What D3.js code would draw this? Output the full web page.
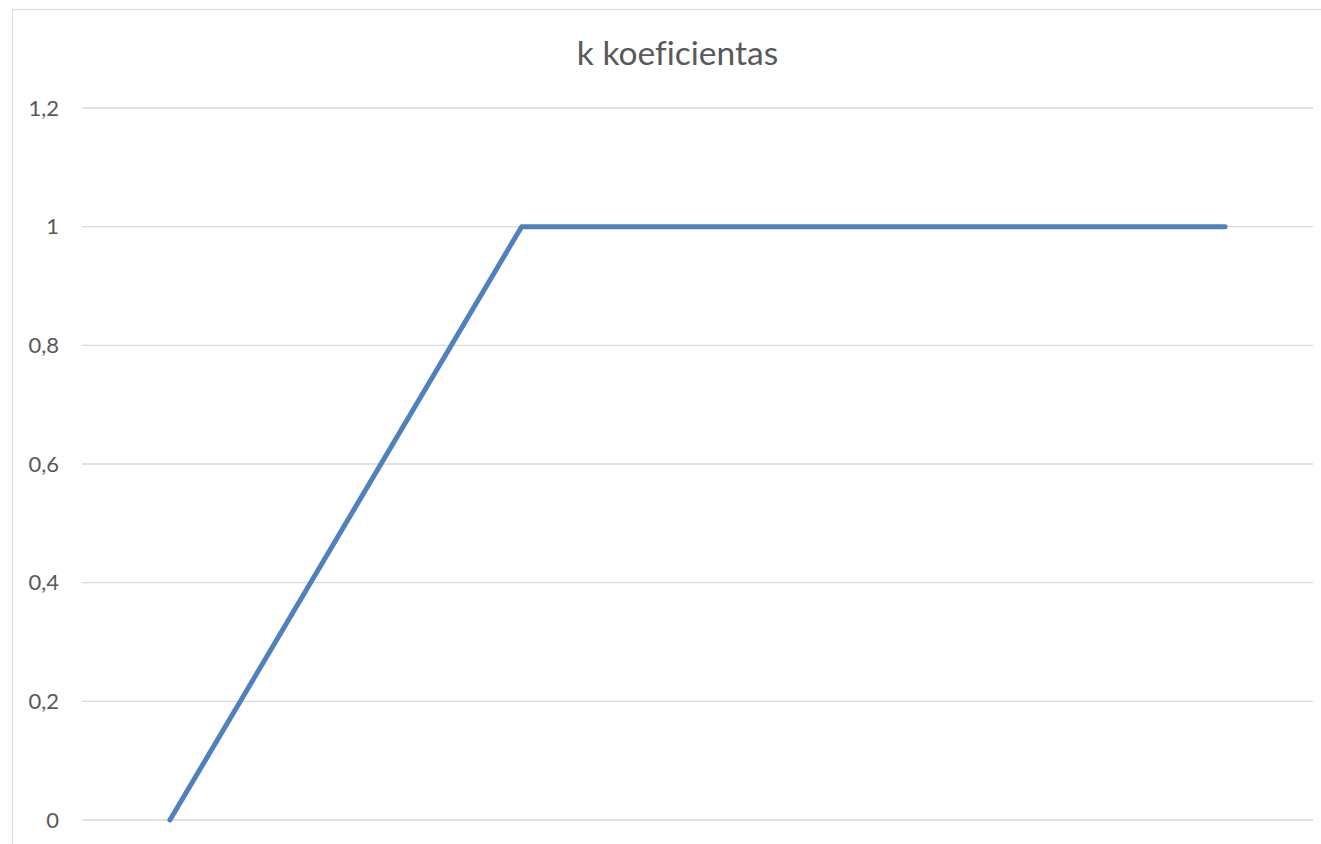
<!DOCTYPE html>
<html><head><meta charset="utf-8">
<script src="https://cdn.jsdelivr.net/npm/d3@7"></script>
<style>html,body{margin:0;padding:0;background:#fff;}svg{display:block;}text{font-variant-ligatures:none;font-feature-settings:"liga" 0;}</style>
</head><body>
<svg id="c" width="1321" height="844"></svg>
<script>
const title = "k koeficientas";
const xValues = [0, 1, 2, 3];
const yValues = [0, 1, 1, 1];
const yTicks = [0, 0.2, 0.4, 0.6, 0.8, 1, 1.2];

(function () {
const svg = d3.select("#c");
const W = 1321, H = 844;
const mLeft = 82, mRight = 1313, mTop = 108, mBottom = 820;

// chart border
svg.append("rect").attr("x", 12.5).attr("y", 9.5).attr("width", W).attr("height", H)
  .attr("fill", "#fff").attr("stroke", "#d9d9d9").attr("stroke-width", 1);

const x = d3.scaleLinear().domain([-0.25, 3.25]).range([mLeft, mRight]);
const y = d3.scaleLinear().domain([0, 1.2]).range([mBottom, mTop]);

// gridlines
svg.append("g").selectAll("line").data(yTicks).join("line")
  .attr("x1", mLeft).attr("x2", mRight)
  .attr("y1", d => y(d)).attr("y2", d => y(d))
  .attr("stroke", "#d9d9d9").attr("stroke-width", 1.3);

// y axis labels
const yAxis = d3.axisLeft(y).tickValues(yTicks).tickSize(0).tickPadding(0)
  .tickFormat(d => String(d).replace(".", ","));
const ga = svg.append("g").attr("transform", `translate(59,0)`).call(yAxis);
ga.select(".domain").remove();
ga.selectAll("text").attr("font-family", "Lato, Carlito, sans-serif")
  .attr("font-size", 22).attr("fill", "#595959");

// line
const pts = xValues.map((v, i) => [v, yValues[i]]);
svg.append("path").datum(pts)
  .attr("d", d3.line().x(d => x(d[0])).y(d => y(d[1])))
  .attr("fill", "none").attr("stroke", "#4f81bd").attr("stroke-width", 5)
  .attr("stroke-linecap", "round").attr("stroke-linejoin", "round");

// title
svg.append("text").attr("x", 677.5).attr("y", 65).attr("text-anchor", "middle")
  .attr("font-family", "Lato, Carlito, sans-serif").attr("font-size", 33.5)
  .attr("fill", "#595959").text(title);
})();
</script>
</body></html>
